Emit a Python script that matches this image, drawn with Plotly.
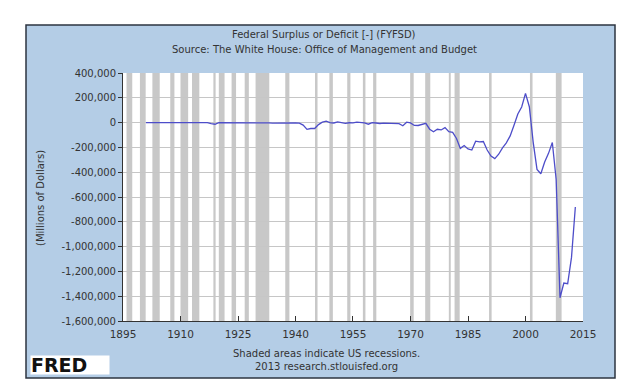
import plotly.graph_objects as go

# ---- data ----
years = list(range(1901, 2014))
surplus = [
    63, 77, 45, -43, -23, 25, 87, -57, -89, -18,            # 1901-1910
    11, 3, 0, 0, -63, 48, -853, -9032, -13363, 291,         # 1911-1920
    509, 736, 713, 963, 717, 865, 1155, 939, 734, 738,      # 1921-1930
    -462, -2735, -2602, -3586, -2803, -4304, -2193, -89, -2846, -2920,  # 1931-1940
    -4941, -20503, -54554, -47557, -47553, -15936, 4018, 11796, 580, -3119,  # 1941-1950
    6102, -1519, -6493, -1154, -2993, 3947, 3412, -2769, -12849, 301,  # 1951-1960
    -3335, -7146, -4756, -5915, -1411, -3698, -8643, -25161, 3242, -2842,  # 1961-1970
    -23033, -23373, -14908, -6135, -53242, -73732, -53659, -59185, -40726, -73830,  # 1971-1980
    -78968, -127977, -207802, -185367, -212308, -221227, -149730, -155178, -152639, -221036,  # 1981-1990
    -269238, -290321, -255051, -203186, -163952, -107431, -21884, 69270, 125610, 236241,  # 1991-2000
    128236, -157758, -377585, -412727, -318346, -248181, -160701, -458553, -1412686, -1294373,  # 2001-2010
    -1299595, -1086963, -680276,                              # 2011-2013
]

rec_start = ["1895-12-01", "1899-06-01", "1902-09-01", "1907-05-01", "1910-01-01",
             "1913-01-01", "1918-08-01", "1920-01-01", "1923-05-01", "1926-10-01",
             "1929-08-01", "1937-05-01", "1945-02-01", "1948-11-01", "1953-07-01",
             "1957-08-01", "1960-04-01", "1969-12-01", "1973-11-01", "1980-01-01",
             "1981-07-01", "1990-07-01", "2001-03-01", "2007-12-01"]
rec_end = ["1897-06-01", "1900-12-01", "1904-08-01", "1908-06-01", "1912-01-01",
           "1914-12-01", "1919-03-01", "1921-07-01", "1924-07-01", "1927-11-01",
           "1933-03-01", "1938-06-01", "1945-10-01", "1949-10-01", "1954-05-01",
           "1958-04-01", "1961-02-01", "1970-11-01", "1975-03-01", "1980-07-01",
           "1982-11-01", "1991-03-01", "2001-11-01", "2009-06-01"]

x_tick_years = [1895, 1910, 1925, 1940, 1955, 1970, 1985, 2000, 2015]
y_tick_vals = [400000, 200000, 0, -200000, -400000, -600000, -800000,
               -1000000, -1200000, -1400000, -1600000]
y_tick_text = ["400,000", "200,000", "0", "-200,000", "-400,000", "-600,000",
               "-800,000", "-1,000,000", "-1,200,000", "-1,400,000", "-1,600,000"]

title1 = "Federal Surplus or Deficit [-] (FYFSD)"
title2 = "Source: The White House: Office of Management and Budget"
y_title = "(Millions of Dollars)"
note1 = "Shaded areas indicate US recessions."
note2 = "2013 research.stlouisfed.org"

# ---- figure ----
W, H = 624, 385
L, R, T, B = 115, 49, 65, 72
pw, ph = W - L - R, H - T - B

def px_x(x):
    return (x - L) / pw

def px_y(y):
    return (H - y - B) / ph

FONT = "DejaVu Sans"
TXT = "#333333"

fig = go.Figure()
fig.add_trace(go.Scatter(
    x=[f"{y}-01-01" for y in years], y=surplus, mode="lines",
    line=dict(color="#4d4dc9", width=1.3), hoverinfo="x+y", showlegend=False))

shapes = [
    dict(type="rect", xref="paper", yref="paper",
         x0=px_x(18), x1=px_x(607), y0=px_y(370), y1=px_y(17),
         fillcolor="#b4cde6", line=dict(color="#2c3440", width=1.5), layer="below"),
    dict(type="rect", xref="paper", yref="paper", x0=0, x1=1, y0=0, y1=1,
         fillcolor="white", line=dict(width=0), layer="below"),
]
for s, e in zip(rec_start, rec_end):
    shapes.append(dict(type="rect", xref="x", yref="paper", x0=s, x1=e, y0=0, y1=1,
                       fillcolor="#c8c8c8", opacity=1, line=dict(width=0), layer="below"))

annotations = [
    dict(text=title1, x=px_x(316), y=px_y(27), xref="paper", yref="paper",
         showarrow=False, xanchor="center", yanchor="middle",
         font=dict(family=FONT, size=10, color=TXT)),
    dict(text=title2, x=px_x(316), y=px_y(41), xref="paper", yref="paper",
         showarrow=False, xanchor="center", yanchor="middle",
         font=dict(family=FONT, size=10, color=TXT)),
    dict(text=y_title, x=px_x(32), y=px_y(190), xref="paper", yref="paper",
         showarrow=False, textangle=-90, xanchor="center", yanchor="middle",
         font=dict(family=FONT, size=10, color=TXT)),
    dict(text=note1, x=px_x(318), y=px_y(345), xref="paper", yref="paper",
         showarrow=False, xanchor="center", yanchor="middle",
         font=dict(family=FONT, size=10, color=TXT)),
    dict(text=note2, x=px_x(318), y=px_y(358), xref="paper", yref="paper",
         showarrow=False, xanchor="center", yanchor="middle",
         font=dict(family=FONT, size=10, color=TXT)),
    dict(text="<b>FRED</b>", x=px_x(22), y=px_y(357), xref="paper", yref="paper",
         showarrow=False, xanchor="left", yanchor="middle", align="left",
         width=78, height=18, bgcolor="white", borderpad=0,
         font=dict(family=FONT, size=19, color="#111111")),
]

fig.update_layout(
    width=W, height=H, margin=dict(l=L, r=R, t=T, b=B, pad=0),
    paper_bgcolor="white", plot_bgcolor="rgba(0,0,0,0)",
    shapes=shapes, annotations=annotations, showlegend=False,
    font=dict(family=FONT, size=10, color=TXT),
)
fig.update_xaxes(
    type="date", range=["1895-01-01", "2015-01-01"],
    tickvals=[f"{y}-01-01" for y in x_tick_years], ticktext=[str(y) for y in x_tick_years],
    showgrid=False, zeroline=False, showline=True, linecolor="#333333", linewidth=1,
    ticks="inside", ticklen=5, tickcolor="#333333",
    tickfont=dict(family=FONT, size=10.5, color=TXT), ticklabelstandoff=3,
)
fig.update_yaxes(
    range=[-1600000, 400000], tickvals=y_tick_vals, ticktext=y_tick_text,
    showgrid=True, gridcolor="#c6c6c6", gridwidth=1, zeroline=False,
    showline=True, linecolor="#333333", linewidth=1,
    ticks="outside", ticklen=4, tickcolor="#333333",
    tickfont=dict(family=FONT, size=10, color=TXT),
)

fig.write_html("out.html")
